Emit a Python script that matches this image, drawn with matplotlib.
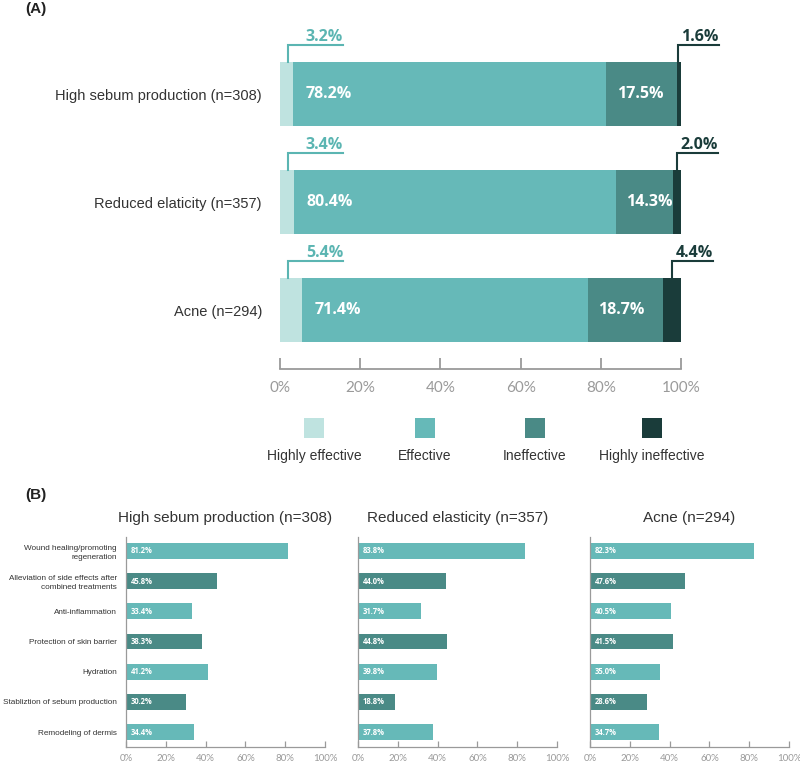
import numpy as np
import matplotlib.pyplot as plt
from matplotlib.patches import Rectangle

# panel A data
conditions = ["High sebum production (n=308)", "Reduced elaticity (n=357)", "Acne (n=294)"]
highly_effective = [3.2, 3.4, 5.4]
effective = [78.2, 80.4, 71.4]
ineffective = [17.5, 14.3, 18.7]
highly_ineffective = [1.6, 2.0, 4.4]
levels = ["Highly effective", "Effective", "Ineffective", "Highly ineffective"]
level_colors = ["#bfe3e0", "#66b9b8", "#4a8a86", "#1a3c3a"]

# panel B data
reasons = ["Wound healing/promoting\nregeneration",
           "Alleviation of side effects after\ncombined treatments",
           "Anti-inflammation", "Protection of skin barrier", "Hydration",
           "Stabliztion of sebum production", "Remodeling of dermis"]
group_titles = ["High sebum production (n=308)", "Reduced elasticity (n=357)", "Acne (n=294)"]
sebum_reasons = [81.2, 45.8, 33.4, 38.3, 41.2, 30.2, 34.4]
elasticity_reasons = [83.8, 44.0, 31.7, 44.8, 39.8, 18.8, 37.8]
acne_reasons = [82.3, 47.6, 40.5, 41.5, 35.0, 28.6, 34.7]
ticks = [0, 20, 40, 60, 80, 100]

TXT = "#333333"
GREY = "#9a9a9a"
BOLD = "Open Sans"
SANS = "Liberation Sans"
LIGHT = "Lato"

W, H = 800, 764
fig = plt.figure(figsize=(8, 7.64), dpi=100)


def box(x0, y0, x1, y1):
    # pixel box (top-left origin) -> figure fraction rect
    return [x0 / W, 1 - y1 / H, (x1 - x0) / W, (y1 - y0) / H]


# ---------------- panel A ----------------
ax = fig.add_axes(box(280, 30, 681, 369))
ypos = np.arange(len(conditions))
bh = 0.593
data = [highly_effective, effective, ineffective, highly_ineffective]
left = np.zeros(len(conditions))
for vals, col in zip(data, level_colors):
    ax.barh(ypos, vals, left=left, height=bh, color=col, edgecolor="none")
    left += np.array(vals)

for i in ypos:
    # labels inside the two big segments
    ax.text(highly_effective[i] + 3.2, i, f"{effective[i]:.1f}%", color="white",
            fontsize=11.5, fontweight="bold", family=BOLD, va="center", ha="left")
    s = highly_effective[i] + effective[i]
    ax.text(s + 2.6, i, f"{ineffective[i]:.1f}%", color="white",
            fontsize=11.5, fontweight="bold", family=BOLD, va="center", ha="left")
    top = i - bh / 2
    up = top - 0.16
    # left callout
    xl = 2.0
    ax.plot([xl, xl, 15.7], [top, up, up], color="#5bb5b2", lw=1.5,
            clip_on=False, solid_joinstyle="miter")
    ax.text(15.7, up - 0.035, f"{highly_effective[i]:.1f}%", color="#5bb5b2",
            fontsize=11.5, fontweight="bold", family=BOLD, ha="right", va="baseline")
    # right callout
    xr = 100 - highly_ineffective[i] / 2
    ax.plot([xr, xr, xr + 10.2], [top, up, up], color="#1a3c3a", lw=1.5,
            clip_on=False, solid_joinstyle="miter")
    ax.text(xr + 10.2, up - 0.035, f"{highly_ineffective[i]:.1f}%", color="#1a3c3a",
            fontsize=11.5, fontweight="bold", family=BOLD, ha="right", va="baseline")

ax.set_xlim(0, 100)
ax.set_ylim(2.546, -0.593)
ax.set_yticks(ypos)
ax.set_yticklabels(conditions, fontsize=10.5, family=SANS, color=TXT)
ax.tick_params(axis="y", length=0, pad=13)
ax.set_xticks(ticks)
ax.set_xticklabels([f"{t}%" for t in ticks], fontsize=11, family=LIGHT, color=GREY)
ax.tick_params(axis="x", direction="in", length=8, width=1.3, color=GREY, pad=9)
for sp in ["top", "right", "left"]:
    ax.spines[sp].set_visible(False)
ax.spines["bottom"].set_color(GREY)
ax.spines["bottom"].set_linewidth(1.3)

# legend (squares above labels)
leg_x = [314, 425, 535, 652]
for cx, name, col in zip(leg_x, levels, level_colors):
    r = box(cx - 10, 418, cx + 10, 438)
    fig.patches.append(Rectangle((r[0], r[1]), r[2], r[3], transform=fig.transFigure,
                                 facecolor=col, edgecolor="none"))
    fig.text(cx / W, 1 - 456 / H, name, ha="center", va="center",
             fontsize=10, family=SANS, color=TXT)

fig.text(25 / W, 1 - 9 / H, "(A)", fontsize=11, fontweight="bold", family=SANS,
         color="#222222", va="center")
fig.text(25 / W, 1 - 495 / H, "(B)", fontsize=11, fontweight="bold", family=SANS,
         color="#222222", va="center")

# ---------------- panel B ----------------
bar_colors = ["#66b9b8", "#4a8a86"]
ax_lefts = [126, 358, 590]
rpos = np.arange(len(reasons))
for k, (title, vals) in enumerate(zip(group_titles, [sebum_reasons, elasticity_reasons, acne_reasons])):
    x0 = ax_lefts[k]
    bx = fig.add_axes(box(x0, 537, x0 + 199, 747))
    cols = [bar_colors[j % 2] for j in rpos]
    bx.barh(rpos, vals, height=0.53, color=cols, edgecolor="none")
    for j, v in enumerate(vals):
        bx.text(2.5, j, f"{v:.1f}%", color="white", fontsize=5.5, fontweight="bold",
                family=BOLD, va="center", ha="left")
    bx.set_xlim(0, 100)
    bx.set_ylim(6.497, -0.464)
    bx.set_xticks(ticks)
    bx.set_xticklabels([f"{t}%" for t in ticks], fontsize=7, family=LIGHT, color=GREY)
    bx.tick_params(axis="x", direction="in", length=4, width=0.9, color=GREY, pad=5)
    bx.set_yticks(rpos)
    if k == 0:
        bx.set_yticklabels(reasons, fontsize=5.85, family=SANS, color=TXT, linespacing=1.35)
    else:
        bx.set_yticklabels([])
    bx.tick_params(axis="y", length=0, pad=6.5)
    for sp in ["top", "right"]:
        bx.spines[sp].set_visible(False)
    for sp in ["bottom", "left"]:
        bx.spines[sp].set_color(GREY)
        bx.spines[sp].set_linewidth(0.9)
    bx.set_title(title, fontsize=11, family=SANS, color=TXT, pad=11)

fig.savefig("out.png", dpi=100, facecolor="white")
